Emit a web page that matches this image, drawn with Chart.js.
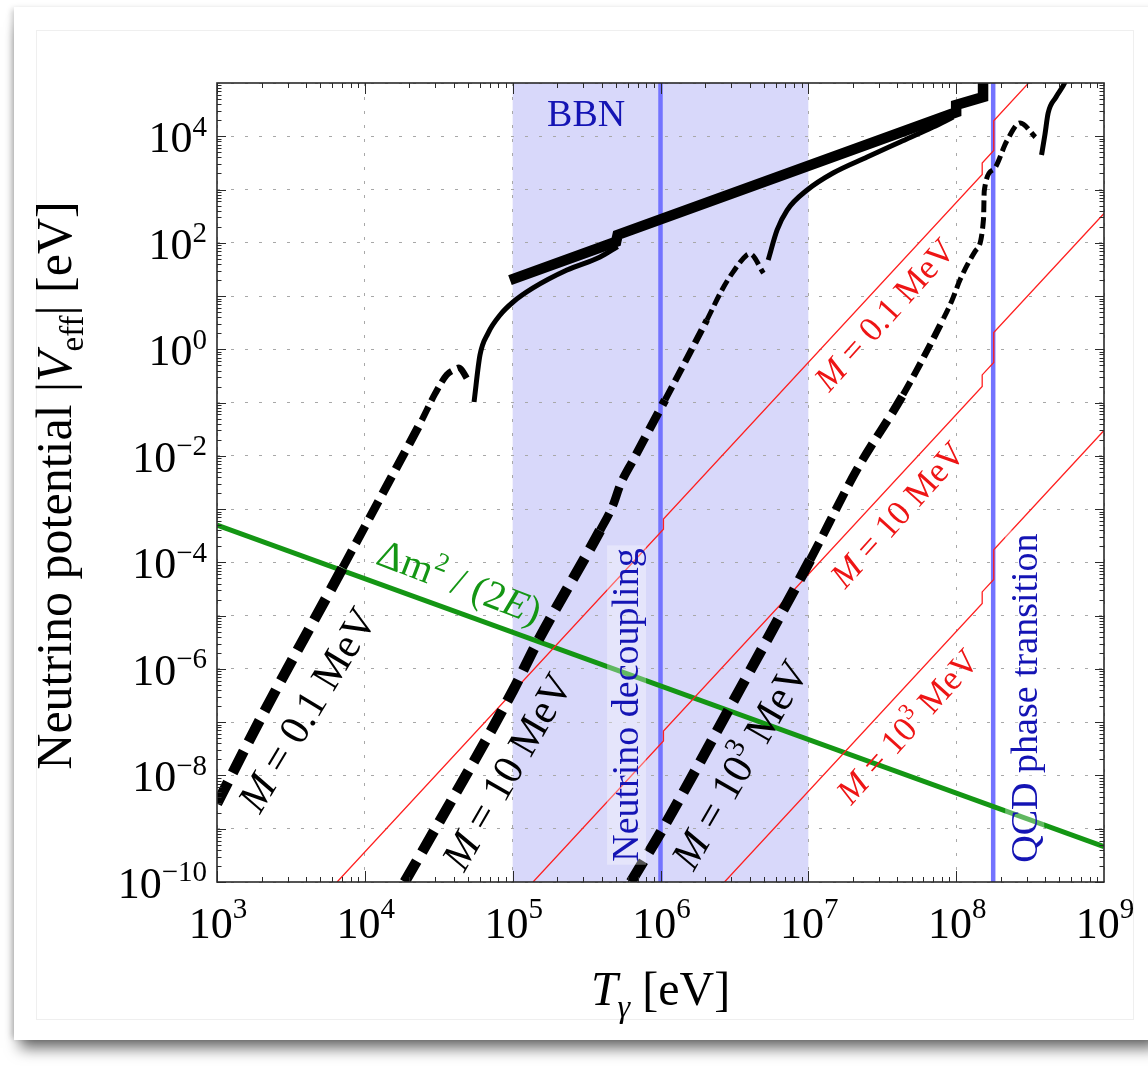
<!DOCTYPE html>
<html>
<head>
<meta charset="utf-8">
<title>Neutrino potential vs photon temperature</title>
<script src="https://cdn.jsdelivr.net/npm/chart.js@4.4.1/dist/chart.umd.min.js"></script>
<style>
  html, body { margin: 0; padding: 0; background: #fff; }
  #page { position: relative; width: 1148px; height: 1066px; overflow: hidden; background: #fff; }
  .card { position: absolute; left: 14px; top: 7px; width: 1150px; height: 1033px; background: #fff;
          box-shadow: 0 14px 14px -6px rgba(0,0,0,0.6), -4px 0 6px -2px rgba(0,0,0,0.22); }
  .inner { position: absolute; left: 36px; top: 30px; width: 1096px; height: 988px; border: 1px solid #efefef; }
  canvas { position: absolute; left: 0; top: 0; }
</style>
</head>
<body>
<div id="page">
  <div class="card"></div>
  <div class="inner"></div>
  <canvas id="chart" width="1148" height="1066"></canvas>
</div>
<script>
// ---- axis ticks ----
const xDecades = [1e3, 1e4, 1e5, 1e6, 1e7, 1e8, 1e9];
const xTickExp = ['3', '4', '5', '6', '7', '8', '9'];
const yDecades = [1e-10, 1e-9, 1e-8, 1e-7, 1e-6, 1e-5, 1e-4, 1e-3, 1e-2, 1e-1, 1e0, 1e1, 1e2, 1e3, 1e4, 1e5];
const yLabelVals = [1e-10, 1e-8, 1e-6, 1e-4, 1e-2, 1e0, 1e2, 1e4];
const yTickExp = ['\u221210', '\u22128', '\u22126', '\u22124', '\u22122', '0', '2', '4'];

// ---- shaded epochs ----
const bbnRange = [1e5, 1e7];
const decouplingT = 1e6;
const qcdT = 1.78e8;

// ---- thick envelope ----
const envT = [9.59e4, 5.01e5, 5.13e5, 1.0e8, 1.0e8, 1.52e8, 1.52e8];
const envV = [19.95, 104.7, 141, 2.82e4, 3.89e4, 5.45e4, 2.0e5];

// ---- thin solid branches ----
const s1T = [5.48e4, 6.01e4, 6.82e4, 8.22e4, 1.007e5, 1.374e5, 2.33e5, 3.90e5, 5.13e5];
const s1V = [0.1026, 0.782, 2.02, 4.41, 7.73, 14.2, 30.8, 54.1, 85];
const s2T = [5.35e6, 6.15e6, 7.19e6, 9.82e6, 1.47e7, 2.50e7, 4.18e7, 6.98e7, 9.55e7];
const s2V = [47.4, 174, 412, 979, 2042, 4074, 7800, 1.49e4, 2.29e4];
const s3T = [3.78e8, 3.98e8, 4.19e8, 4.74e8, 5.46e8, 5.75e8];
const s3V = [4446, 1.05e4, 2.73e4, 5.45e4, 1.05e5, 1.58e5];

// ---- dashed branches (M = 0.1, 10, 10^3 MeV) ----
const d1T = [1.0e3, 1.95e3, 7.08e3, 1.58e4, 2.43e4, 2.99e4, 3.58e4, 3.98e4, 4.30e4, 5.07e4];
const d1V = [2.95e-9, 1.10e-7, 7.94e-5, 5.01e-3, 0.0468, 0.148, 0.331, 0.407, 0.452, 0.245];
const d2T = [1.86e4, 2.89e4, 1.007e5, 1.46e5, 3.90e5, 4.78e5, 5.33e5, 6.53e5, 1.074e6, 2.06e6, 2.60e6, 3.11e6, 3.84e6, 4.04e6, 4.97e6];
const d2V = [1e-10, 8.32e-10, 3.98e-7, 3.09e-6, 3.98e-4, 1.20e-3, 2.82e-3, 8.32e-3, 0.112, 3.55, 12.9, 28.8, 58.9, 61.7, 26.9];
const d3T = [6.31e5, 1.026e6, 2.96e6, 1.028e7, 2.14e7, 4.38e7, 8.20e7, 9.35e7, 1.064e8, 1.346e8, 1.531e8, 1.549e8, 1.79e8, 2.20e8, 2.71e8, 3.43e8];
const d3V = [1e-10, 9.55e-10, 1.93e-7, 1.11e-4, 5.62e-3, 0.141, 3.77, 8.15, 20.4, 70.0, 279, 948, 2382, 8128, 1.78e4, 9660];

// ---- red thin lines ----
const r1T = [6.49e3, 1.047e6, 1.047e6, 1.5e8, 1.5e8, 1.795e8, 1.795e8, 4.0e8];
const r1V = [1e-10, 4.2e-4, 6.5e-4, 1.91e3, 3.15e3, 5.4e3, 1.96e4, 2.17e5];
const r2T = [1.374e5, 1.047e6, 1.047e6, 1.5e8, 1.5e8, 1.795e8, 1.795e8, 1.0e9];
const r2V = [1e-10, 4.43e-8, 6.85e-8, 0.201, 0.331, 0.568, 2.06, 356];
const r3T = [2.71e6, 1.5e8, 1.5e8, 1.795e8, 1.795e8, 1.0e9];
const r3V = [1e-10, 1.69e-5, 2.79e-5, 4.78e-5, 1.73e-4, 0.030];

// ---- oscillation scale dm^2/(2E) ----
const greenT = [1e3, 1e9];
const greenV = [5.0e-4, 4.6e-10];

const FONT = '"Liberation Serif", "Times New Roman", serif';
const BLUE_TEXT = '#1414b4';

// rich text helper: parts = [{t, it, sup, sub}]
function drawRich(ctx, parts, x, y, o) {
  const size = o.size;
  const fontFor = p => (p.it ? 'italic ' : '') + ((p.sup || p.sub) ? Math.round(size * 0.66) : size) + 'px ' + FONT;
  const widths = parts.map(p => { ctx.font = fontFor(p); return ctx.measureText(p.t).width; });
  const total = widths.reduce((a, b) => a + b, 0);
  ctx.save();
  ctx.translate(x, y);
  ctx.rotate((o.angle || 0) * Math.PI / 180);
  ctx.fillStyle = o.color || '#000';
  ctx.textAlign = 'left';
  ctx.textBaseline = 'alphabetic';
  let cx = o.align === 'right' ? -total : (o.align === 'left' ? 0 : -total / 2);
  const dy = o.middle ? size * 0.3 : 0;
  parts.forEach((p, i) => {
    ctx.font = fontFor(p);
    const off = p.sup ? -size * (o.supRaise || 0.42) : (p.sub ? size * 0.24 : 0);
    ctx.fillText(p.t, cx, dy + off);
    cx += widths[i];
  });
  ctx.restore();
  return total;
}

const mLabel = (num, sup) => sup
  ? [{ t: 'M', it: true }, { t: ' = ' + num }, { t: sup, sup: true }, { t: ' MeV' }]
  : [{ t: 'M', it: true }, { t: ' = ' + num + ' MeV' }];

const curveLabels = [
  { parts: mLabel('0.1'), at: [4.13e3, 1.69e-7], angle: -59, size: 42, color: '#000' },
  { parts: mLabel('10'), at: [9.31e4, 1.16e-8], angle: -60, size: 42, color: '#000' },
  { parts: mLabel('10', '3'), at: [3.50e6, 1.57e-8], angle: -60, size: 42, color: '#000' },
  { parts: mLabel('0.1'), at: [3.31e7, 4.41], angle: -48, size: 35, color: '#ee1515' },
  { parts: mLabel('10'), at: [4.06e7, 7.76e-4], angle: -48, size: 35, color: '#ee1515' },
  { parts: mLabel('10', '3'), at: [4.73e7, 8.13e-8], angle: -48, size: 35, color: '#ee1515' },
  { parts: [{ t: '\u0394m' }, { t: '2', sup: true }, { t: ' / (2' }, { t: 'E', it: true }, { t: ')' }],
    at: [4.34e4, 4.1e-5], angle: 21, size: 40, color: '#149614' },
  { parts: [{ t: 'BBN' }], at: [3.14e5, 2.6e4], angle: 0, size: 38, color: BLUE_TEXT }
];
const epochLabels = [
  { text: 'Neutrino decoupling', at: [5.94e5, 2.1e-7] },
  { text: 'QCD phase transition', at: [2.93e8, 2.84e-7] }
];

const toPoints = (xs, ys) => xs.map((x, i) => ({ x: x, y: ys[i] }));

function lineSet(label, xs, ys, color, width, extra) {
  return Object.assign({
    label: label,
    data: toPoints(xs, ys),
    showLine: true,
    borderColor: color,
    backgroundColor: color,
    borderWidth: width,
    pointRadius: 0,
    pointHoverRadius: 0,
    fill: false,
    tension: 0,
    clip: 0,
    borderCapStyle: 'butt',
    borderJoinStyle: 'miter'
  }, extra || {});
}

// dashes get thinner as the curves climb
function dashWidth(v) { return v < 1e-5 ? 10.5 : (v < 1e-2 ? 8.5 : (v < 1 ? 6.5 : 5)); }
const dashedExtra = {
  cubicInterpolationMode: 'monotone',
  segment: {
    borderWidth: c => dashWidth(c.p0.parsed.y),
    borderDash: c => { const w = dashWidth(c.p0.parsed.y); return [w * 2.3, w * 1.0]; }
  }
};
const smooth = { cubicInterpolationMode: 'monotone', borderJoinStyle: 'round' };

// first dataset is drawn on top
const datasets = [
  lineSet('envelope', envT, envV, '#000', 10.5),
  lineSet('S1', s1T, s1V, '#000', 5, smooth),
  lineSet('S2', s2T, s2V, '#000', 5, smooth),
  lineSet('S3', s3T, s3V, '#000', 5, smooth),
  lineSet('M=0.1 MeV', d1T, d1V, '#000', 8, dashedExtra),
  lineSet('M=10 MeV', d2T, d2V, '#000', 8, dashedExtra),
  lineSet('M=1e3 MeV', d3T, d3V, '#000', 8, dashedExtra),
  lineSet('red 0.1', r1T, r1V, '#ff2020', 1.3),
  lineSet('red 10', r2T, r2V, '#ff2020', 1.3),
  lineSet('red 1e3', r3T, r3V, '#ff2020', 1.3),
  lineSet('dm2/2E', greenT, greenV, '#149614', 5),
  lineSet('decoupling', [decouplingT, decouplingT], [1e-10, 1e5], '#7373ff', 4.5),
  lineSet('QCD', [qcdT, qcdT], [1e-10, 1e5], '#7373ff', 4.5)
];

const decorPlugin = {
  id: 'decor',
  beforeDraw(chart) {
    const { ctx, chartArea: a, scales: { x } } = chart;
    const x0 = x.getPixelForValue(bbnRange[0]);
    const x1 = x.getPixelForValue(bbnRange[1]);
    ctx.save();
    ctx.fillStyle = '#d8d8fa';
    ctx.fillRect(x0, a.top, x1 - x0, a.bottom - a.top);
    ctx.restore();
  },
  afterDatasetsDraw(chart) {
    const { ctx, chartArea: a, scales: { x, y } } = chart;
    ctx.save();
    ctx.beginPath();
    ctx.rect(a.left, a.top, a.right - a.left, a.bottom - a.top);
    ctx.clip();
    epochLabels.forEach(l => {
      const px = x.getPixelForValue(l.at[0]);
      const py = y.getPixelForValue(l.at[1]);
      ctx.font = '38px ' + FONT;
      const w = ctx.measureText(l.text).width;
      ctx.fillStyle = 'rgba(255,255,255,0.33)';
      ctx.fillRect(px - 20, py - w / 2 - 3, 39, w + 6);
      drawRich(ctx, [{ t: l.text }], px, py, { size: 38, angle: -90, color: BLUE_TEXT, middle: true });
    });
    curveLabels.forEach(l => {
      drawRich(ctx, l.parts, x.getPixelForValue(l.at[0]), y.getPixelForValue(l.at[1]),
        { size: l.size, angle: l.angle, color: l.color, middle: true });
    });
    ctx.restore();
  },
  afterDraw(chart) {
    const { ctx, chartArea: a, scales: { x, y } } = chart;
    ctx.save();
    ctx.strokeStyle = '#2a2a2a';
    ctx.lineWidth = 1;
    ctx.beginPath();
    // x ticks, bottom and top
    for (let e = 3; e < 9; e++) {
      for (let d = 1; d <= 9; d++) {
        const px = Math.round(x.getPixelForValue(d * Math.pow(10, e))) + 0.5;
        const len = d === 1 ? 11 : 5;
        ctx.moveTo(px, a.bottom); ctx.lineTo(px, a.bottom - len);
        ctx.moveTo(px, a.top); ctx.lineTo(px, a.top + len);
      }
    }
    // y ticks, left and right
    for (let e = -10; e < 5; e++) {
      for (let d = 1; d <= 9; d++) {
        const py = Math.round(y.getPixelForValue(d * Math.pow(10, e))) + 0.5;
        const len = d === 1 ? 9 : 4.5;
        ctx.moveTo(a.left, py); ctx.lineTo(a.left + len, py);
        ctx.moveTo(a.right, py); ctx.lineTo(a.right - len, py);
      }
    }
    ctx.stroke();
    ctx.lineWidth = 1.6;
    ctx.strokeRect(a.left, a.top, a.right - a.left, a.bottom - a.top);
    ctx.restore();

    // tick labels
    xDecades.forEach((v, i) => {
      drawRich(ctx, [{ t: '10' }, { t: xTickExp[i], sup: true }], x.getPixelForValue(v) + 1, a.bottom + 56,
        { size: 44, supRaise: 0.46 });
    });
    yLabelVals.forEach((v, i) => {
      drawRich(ctx, [{ t: '10' }, { t: yTickExp[i], sup: true }], a.left - 10, y.getPixelForValue(v) + 16,
        { size: 44, align: 'right', supRaise: 0.38 });
    });

    // axis titles
    drawRich(ctx, [{ t: 'T', it: true }, { t: '\u03b3', it: true, sub: true }, { t: ' [eV]' }],
      (a.left + a.right) / 2, a.bottom + 123, { size: 48 });
    drawRich(ctx, [{ t: 'Neutrino potential |' }, { t: 'V', it: true }, { t: 'eff', sub: true }, { t: '| [eV]' }],
      a.left - 146, (a.top + a.bottom) / 2 + 3, { size: 50, angle: -90 });
  }
};

new Chart(document.getElementById('chart'), {
  type: 'scatter',
  data: { datasets: datasets },
  options: {
    responsive: false,
    animation: false,
    events: [],
    layout: { padding: { left: 217, top: 83, right: 44, bottom: 184 } },
    plugins: { legend: { display: false }, tooltip: { enabled: false } },
    scales: {
      x: {
        type: 'logarithmic',
        min: 1e3,
        max: 1e9,
        afterBuildTicks: axis => { axis.ticks = xDecades.map(v => ({ value: v })); },
        ticks: { display: false },
        grid: { color: '#a8a8a8', lineWidth: 1, drawTicks: false },
        border: { display: false, dash: [3, 11] }
      },
      y: {
        type: 'logarithmic',
        min: 1e-10,
        max: 1e5,
        afterBuildTicks: axis => { axis.ticks = yDecades.map(v => ({ value: v })); },
        ticks: { display: false },
        grid: { color: '#a8a8a8', lineWidth: 1, drawTicks: false },
        border: { display: false, dash: [3, 11] }
      }
    }
  },
  plugins: [decorPlugin]
});
</script>
</body>
</html>
